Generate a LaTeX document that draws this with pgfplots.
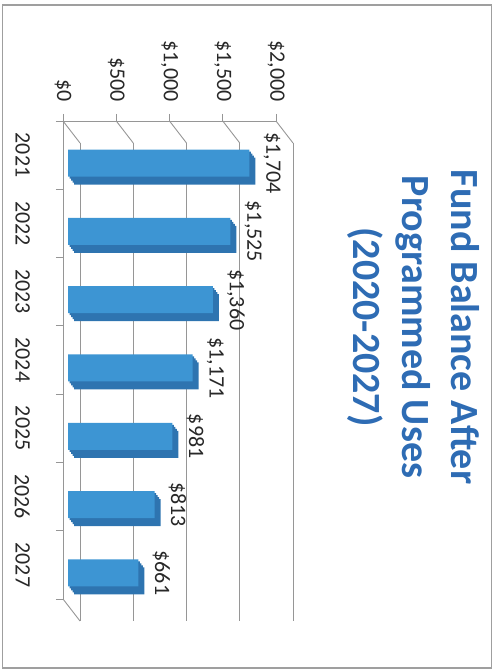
\documentclass[border=0pt]{standalone}
\usepackage{pgfplots}
\usepackage{pgfplotstable}
\pgfplotsset{compat=1.18}
\usepackage{fontspec}
\setmainfont{Carlito}
\definecolor{barface}{RGB}{61,149,211}
\definecolor{barside}{RGB}{46,116,176}
\definecolor{titleblue}{RGB}{46,108,180}
\definecolor{gridgray}{RGB}{150,150,150}
\definecolor{txt}{RGB}{40,40,40}

\pgfplotstableread{
val cat
1704 7
1525 6
1360 5
1171 4
981 3
813 2
661 1
}\balance

\begin{document}
\begin{tikzpicture}
\pgfplotsset{common/.style={scale only axis, width=213pt, height=478pt,
  xmin=0, xmax=2000, ymin=0.5, ymax=7.5, clip=false}}
% back wall gridlines
\begin{axis}[common, at={(80pt,528pt)}, anchor=north west,
  xtick={0,500,...,2000}, ytick=\empty, xticklabels={}, xmajorgrids,
  major grid style={gridgray, line width=0.9pt},
  axis line style={draw=none}, major tick length=0pt]
\end{axis}
% front axis
\begin{axis}[common, at={(63pt,550pt)}, anchor=north west,
  axis x line*=top, axis y line*=left,
  axis line style={gridgray, line width=0.9pt},
  tick style={gridgray, line width=0.9pt},
  tick align=outside, major tick length=7pt,
  xtick={0,500,...,2000},
  xticklabel={\$\pgfmathprintnumber{\tick}},
  /pgf/number format/.cd, 1000 sep={,}, fixed, precision=0, assume math mode=true, /pgfplots/.cd,
  xticklabel style={rotate=-90, anchor=east, font=\fontsize{22}{26}\selectfont, text=txt, inner sep=2pt},
  xticklabel shift=10pt,
  ytick={0.5,1.5,...,7.5},
  y tick label as interval,
  yticklabels={2027,2026,2025,2024,2023,2022,2021,{}},
  yticklabel style={rotate=-90, anchor=north, font=\fontsize{22}{26}\selectfont, text=txt, inner sep=2pt},
  yticklabel shift=24pt,
]
\pgfplotsinvokeforeach{0,500,1000,1500,2000}{
  \draw[gridgray, line width=0.9pt] (axis cs:#1,7.5) -- ++(17pt,-22pt);
}
\draw[gridgray, line width=0.9pt] (axis cs:0,0.5) -- ++(17pt,-22pt);
\end{axis}
% bars
\begin{axis}[common, at={(68pt,542pt)}, anchor=north west, hide axis,
  /pgf/number format/.cd, 1000 sep={,}, fixed, precision=0, assume math mode=true, /pgfplots/.cd]
\addplot[xbar, bar width=27pt, draw=none, fill=barside, xshift=1.5pt, yshift=-2pt] table[x=val,y=cat]{\balance};
\addplot[xbar, bar width=27pt, draw=none, fill=barside, xshift=3pt, yshift=-4pt] table[x=val,y=cat]{\balance};
\addplot[xbar, bar width=27pt, draw=none, fill=barside, xshift=4.5pt, yshift=-6pt] table[x=val,y=cat]{\balance};
\addplot[xbar, bar width=27pt, draw=none, fill=barside, xshift=6pt, yshift=-8pt] table[x=val,y=cat]{\balance};
\addplot[xbar, bar width=27pt, draw=none, fill=barface, point meta=x,
  nodes near coords={\$\pgfmathprintnumber{\pgfplotspointmeta}},
  nodes near coords style={xshift=12pt, rotate=-90, anchor=south, font=\fontsize{22}{26}\selectfont, text=txt, inner sep=2pt}]
  table[x=val,y=cat]{\balance};
\end{axis}
\node[rotate=-90, align=center, text=titleblue, font=\bfseries\fontsize{40}{49}\selectfont]
  at (413pt,344pt) {Fund Balance After\\Programmed Uses\\(2020-2027)};
\draw[gray!75, line width=1.2pt] (2.5pt,3pt) rectangle (491.5pt,666pt);
\pgfresetboundingbox
\path (0,0) rectangle (493pt,671pt);
\end{tikzpicture}
\end{document}
